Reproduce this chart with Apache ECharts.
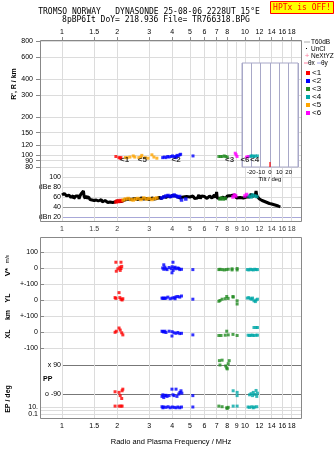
<!DOCTYPE html>
<html><head><meta charset="utf-8">
<script src="https://cdn.jsdelivr.net/npm/echarts@6/dist/echarts.min.js"></script>
<style>html,body{margin:0;padding:0;background:#fff}#c{width:335px;height:451px}</style>
</head><body><div id="c"></div>
<script>
// ---------------- data ----------------
const freqTicksTop = [1,1.5,2,3,4,5,6,7,8,10,12,14,16,18];
const freqTicksMid = [1,1.5,2,3,4,5,6,7,8,9,10,12,14,16,18];
const freqGrid = [1,1.5,2,3,4,5,6,7,8,9,10,12,14,16,18];
const rangeTicks = [80,90,100,120,150,200,300,400,600,800];
const rangeLabelsA = [80,100,120,150,200,300,400,600,800];
const rangeLabelsB = [90];
const dbTicks = [20,40,60,80,100];
const layerNames = ['<1','<2','<3','<4','<5','<6'];

// virtual range echoes (MHz, km) per layer
const echo1 = [[1.97,97],[2.05,95],[2.08,94],[2.1,95]];
const echo2 = [[3.55,95],[3.62,96],[3.7,95],[3.78,97],[3.85,96],[3.95,97],[4.02,98],[4.1,96],[4.18,97],[4.25,99],[4.32,98],[4.4,100],[4.45,101],[4.2,95],[5.2,98]];
const echo3 = [[7.2,97],[7.35,97],[7.5,97],[7.7,98],[7.85,97],[8.0,96]];
const echo4 = [[10.6,97],[10.8,98],[11.0,98],[11.2,97],[11.4,98],[11.7,98]];
const echo5 = [[2.22,95],[2.27,95],[2.35,96],[2.45,98],[2.5,96],[2.63,95],[2.7,96],[2.73,99],[2.85,95],[2.95,94],[3.1,100],[3.18,96],[3.3,94]];
const echo6 = [[8.85,103],[8.95,100],[9.05,97],[10.2,96],[10.4,97]];
const tagNames = ['<1','<5','<2','<3','<6','<4'];
const tagFreq = [2.2,2.75,4.2,8.25,10.0,11.3];
const tagKm = [92,92,92,92,92,92];

// noise / echo amplitude (MHz, dB)
const noise = [[1.00,64],[1.01,68],[1.02,65],[1.03,67],[1.04,63],[1.05,66],[1.06,62],[1.07,65],[1.08,61],[1.09,64],[1.10,60],[1.11,63],[1.12,59],[1.13,62],[1.14,58],[1.15,63],[1.16,57],[1.17,61],[1.18,55],[1.19,62],[1.20,59],[1.21,64],[1.22,58],[1.23,62],[1.24,56],[1.25,61],[1.26,60],[1.27,66],[1.28,62],[1.29,70],[1.30,64],[1.31,72],[1.32,62],[1.33,66],[1.34,57],[1.35,63],[1.36,58],[1.37,62],[1.38,55],[1.40,60],[1.42,55],[1.44,59],[1.46,54],[1.48,58],[1.50,53],[1.52,57],[1.54,54],[1.56,58],[1.58,52],[1.60,56],[1.62,51],[1.64,55],[1.66,50],[1.68,53],[1.70,49],[1.72,53],[1.74,50],[1.76,54],[1.78,49],[1.80,52],[1.83,50],[1.86,53],[1.89,49],[1.92,52],[1.95,50],[2.0,52],[2.1,51],[2.2,54],[2.3,56],[2.4,55],[2.5,57],[2.6,55],[2.7,58],[2.8,56],[2.9,57],[3.0,55],[3.1,58],[3.2,56],[3.3,57],[3.4,59],[3.5,57],[3.6,61],[3.7,59],[3.8,62],[3.9,60],[4.0,63],[4.1,59],[4.2,62],[4.3,60],[4.4,58],[4.5,55],[4.6,60],[4.7,56],[4.8,61],[4.9,57],[5.0,60],[5.1,56],[5.2,62],[5.3,57],[5.4,61],[5.5,58],[5.6,64],[5.7,57],[5.8,62],[5.9,58],[6.0,61],[6.2,57],[6.4,62],[6.6,58],[6.8,64],[6.9,59],[7.0,70],[7.05,58],[7.2,62],[7.4,57],[7.6,60],[7.8,56],[8.0,62],[8.2,58],[8.4,63],[8.6,59],[8.8,64],[9.0,58],[9.2,62],[9.4,59],[9.6,63],[9.8,58],[10.0,62],[10.2,60],[10.4,64],[10.6,60],[10.8,66],[11.0,61],[11.2,58],[11.4,65],[11.5,72],[11.6,62],[11.8,58],[12.0,56],[12.2,57],[12.4,53],[12.6,54],[12.8,51],[13.0,52],[13.2,49],[13.4,50],[13.6,47],[13.8,48],[14.0,46],[14.3,45],[14.6,44],[14.9,43],[15.2,42],[15.6,40]];
const db1 = [[1.97,50],[2.0,52],[2.04,51],[2.08,53],[2.12,52]];
const db2 = [[3.5,58],[3.6,60],[3.7,62],[3.8,63],[3.9,61],[4.0,62],[4.1,64],[4.2,62],[4.3,60],[4.4,61],[4.5,54],[4.75,56]];
const db3 = [[7.3,56],[7.45,58],[7.6,56],[7.8,57]];
const db4 = [[10.5,62],[10.8,60],[11.0,64],[11.3,62],[11.6,61]];
const db5 = [[2.16,54],[2.22,56],[2.3,57],[2.38,55],[2.45,54],[2.52,56],[2.6,57],[2.7,55],[2.8,58],[2.9,56],[3.0,57],[3.1,55],[3.2,57],[3.3,58]];
const db6 = [[8.6,60],[8.75,64],[8.9,62],[10.0,62],[10.2,65]];

// V* (m/s)
const vs1 = [[1.97,36],[2.1,36],[1.98,-20],[2.02,-5],[2.07,5],[2.1,-3],[2.12,10],[2.08,-15]];
const vs2 = [[3.55,0],[3.6,-8],[3.6,20],[3.65,5],[3.7,-5],[3.75,-10],[3.85,3],[3.95,-5],[4.0,8],[4.04,36],[3.99,-30],[4.05,-15],[4.1,0],[4.15,5],[4.2,-5],[4.3,0],[4.35,-3],[4.4,-10],[4.5,-8],[5.19,-10]];
const vs3 = [[7.2,-10],[7.3,-8],[7.5,-10],[7.7,-12],[7.9,-10],[8.1,-8],[8.5,-12],[8.5,-5],[9.06,-12],[9.06,-3]];
const vs4 = [[10.3,-10],[10.5,-12],[10.7,-8],[10.9,-10],[11.1,-12],[11.3,-8],[11.5,-10],[11.7,-10]];
// YL (km)
const yl1 = [[2.05,46],[1.95,15],[1.97,10],[2.07,15],[2.1,5],[2.13,0],[2.15,8]];
const yl2 = [[3.52,12],[3.56,10],[3.6,12],[3.65,10],[3.7,12],[3.79,18],[3.9,8],[4.0,12],[4.1,15],[4.15,8],[4.2,20],[4.3,22],[4.4,18],[4.5,25],[5.19,5]];
const yl3 = [[7.2,-8],[7.3,-3],[7.5,5],[7.8,8],[7.95,22],[8.09,10],[8.6,22],[8.62,18],[9.06,-25],[9.06,-5]];
const yl4 = [[10.3,12],[10.5,15],[10.7,8],[10.9,5],[11.0,12],[11.2,-5],[11.4,-10],[11.5,0],[11.7,5]];
// XL (km)
const xl1 = [[1.95,-2],[1.98,5],[2.05,25],[2.08,12],[2.12,-5],[2.15,-18]];
const xl2 = [[3.52,5],[3.56,3],[3.6,0],[3.65,5],[3.7,-3],[3.85,5],[3.99,-25],[4.0,2],[4.1,-5],[4.2,-8],[4.3,-3],[4.4,-10],[4.5,-8],[5.19,-18]];
const xl3 = [[7.2,-22],[7.4,-22],[7.8,-20],[7.95,5],[8.1,-18],[8.6,-15],[9.06,-22]];
const xl4 = [[10.4,-20],[10.6,-22],[10.8,-20],[11.0,-20],[11.2,-22],[11.5,-20],[11.7,-20],[11.2,28],[11.5,28],[11.7,28]];
// PP (deg)
const pp1 = [[1.95,-76],[2.05,-80],[2.08,-100],[2.12,-118],[2.15,-60],[2.13,-70]];
const pp2 = [[3.52,-105],[3.56,-95],[3.6,-112],[3.65,-100],[3.7,-98],[3.75,-105],[3.85,-100],[3.99,-60],[4.04,-95],[4.1,-100],[4.2,-60],[4.25,-105],[4.35,-90],[4.41,-80],[4.47,-70],[4.52,-85],[5.19,-100]];
const pp3 = [[7.25,117],[7.3,90],[7.5,120],[7.85,84],[7.95,72],[8.2,117],[8.1,98],[8.0,66]];
const pp4 = [[8.62,-70],[9.06,-80],[9.06,-100],[10.6,-95],[10.8,-88],[11.0,-100],[11.1,-80],[11.3,-92],[11.5,-68],[11.6,-105],[11.7,-85]];
// EP (deg)
const ep1 = [[1.95,18],[2.05,18],[2.1,18],[2.13,18]];
const ep2 = [[3.52,12],[3.56,6],[3.6,10],[3.7,8],[3.8,12],[3.9,6],[4.0,10],[4.1,8],[4.2,6],[4.3,10],[4.4,6],[4.5,10],[5.19,10]];
const ep3 = [[7.2,18],[7.5,12],[7.95,6],[8.0,4],[8.1,8]];
const ep4 = [[8.62,18],[9.06,18],[10.4,10],[10.6,8],[10.9,12],[11.1,6],[11.3,10],[11.6,12]];
// tilt
const tiltDeg = [0];
const tiltTicks = [-20,-10,0,10,20];

// ---------------- style ----------------
const colors = ['#ff0000','#0000ff','#228b22','#00a8a8','#ffa500','#ff00ff'];
const SANS = 'Liberation Sans, Arial, sans-serif';
const MONO = 'DejaVu Sans Mono, monospace';
const FMIN = 0.758, FMAX = 20.5;
const fmtF = v => String(Math.round(v*10)/10);

function hiddenX(g, min) {
  return {gridIndex:g, type:'log', logBase:10, min: min || FMIN, max: FMAX,
    axisLine:{show:false}, axisTick:{show:false}, axisLabel:{show:false}, splitLine:{show:false}};
}
const lblStyle = {fontSize:7, fontFamily:SANS, color:'#000', hideOverlap:false, showMinLabel:true, showMaxLabel:true};

const grids = [
  {left:40, top:40, width:262, height:132},      // 0 range
  {left:62, top:172, width:240, height:50},      // 1 dB
  {left:40, top:40, width:262, height:182},      // 2 bg top
  {left:40, top:237, width:262, height:182},     // 3 bg bottom
  {left:40, top:252, width:262, height:32},      // 4 V*
  {left:40, top:284, width:262, height:32},      // 5 YL
  {left:40, top:316, width:262, height:32},      // 6 XL
  {left:62, top:365, width:240, height:29},      // 7 PP
  {left:40, top:407, width:262, height:7},       // 8 EP
  {left:242, top:63, width:56, height:104, show:true, backgroundColor:'#fff', borderColor:'#a8a8c8', borderWidth:1, z:1}, // 9 tilt
  {left:40, top:224, width:262, height:10}       // 10 strip for middle frequency labels
];

const xAxes = [
  Object.assign(hiddenX(0), {position:'top',
    axisTick:{show:true, customValues:freqTicksTop, length:3, lineStyle:{color:'#888'}},
    axisLabel:Object.assign({show:true, customValues:freqTicksTop, formatter:fmtF, margin:4}, lblStyle)}),
  hiddenX(1, 1),
  Object.assign(hiddenX(2), {position:'bottom',
    axisTick:{show:false, customValues:freqGrid},
    splitLine:{show:true, lineStyle:{color:'#dcdcdc', width:1}}}),
  Object.assign(hiddenX(3), {position:'bottom',
    axisTick:{show:false, customValues:freqGrid},
    axisLabel:Object.assign({show:true, customValues:freqTicksMid, formatter:fmtF, margin:4}, lblStyle),
    splitLine:{show:true, lineStyle:{color:'#dcdcdc', width:1}},
    name:'Radio and Plasma Frequency / MHz', nameLocation:'middle', nameGap:19,
    nameTextStyle:{fontSize:7.5, fontFamily:SANS, color:'#000'}}),
  hiddenX(4), hiddenX(5), hiddenX(6), hiddenX(7, 1), hiddenX(8),
  {gridIndex:9, type:'value', min:-30, max:30, interval:10, z:1,
    axisLine:{show:false}, axisTick:{show:false},
    axisLabel:{customValues:tiltTicks, fontSize:6, fontFamily:SANS, color:'#000', margin:2, hideOverlap:false},
    splitLine:{show:true, lineStyle:{color:'#a8a8c8'}},
    name:'Tilt / deg', nameLocation:'middle', nameGap:9,
    nameTextStyle:{fontSize:6, fontFamily:SANS, color:'#000'}},
  hiddenX(10)
];

function pmAxis(g, fmt) {
  return {gridIndex:g, type:'value', min:-100, max:100, interval:100,
    axisLine:{show:false},
    axisTick:{show:true, inside:true, length:4, lineStyle:{color:'#888'}},
    axisLabel:Object.assign({formatter:fmt, margin:2}, lblStyle),
    splitLine:{show:true, lineStyle:{color:'#dcdcdc'}}};
}

const yAxes = [
  {gridIndex:0, type:'log', logBase:10, min:73, max:820, position:'left',
    axisLine:{show:false},
    axisTick:{show:true, customValues:rangeTicks, length:4, lineStyle:{color:'#888'}},
    axisLabel:Object.assign({customValues:rangeLabelsA, margin:7, formatter:v=>String(Math.round(v))}, lblStyle),
    splitLine:{show:true, lineStyle:{color:'#dcdcdc'}}},
  {gridIndex:1, type:'value', min:10, max:110,
    axisLine:{show:false},
    axisTick:{show:false, customValues:dbTicks},
    axisLabel:Object.assign({customValues:dbTicks, margin:1,
      formatter:v=> v===80 ? 'dBe 80' : (v===20 ? 'dBn 20' : String(v))}, lblStyle),
    splitLine:{show:true, lineStyle:{color:['#a8a8d8','#999999','#dcdcdc','#dcdcdc','#dcdcdc']}}},
  {gridIndex:2, type:'value', min:0, max:1, show:false},
  {gridIndex:3, type:'value', min:0, max:1, show:false},
  pmAxis(4, v => v===-100 ? '+-100' : String(v)),
  pmAxis(5, v => v===-100 ? '+-100' : (v===0 ? '0' : '')),
  pmAxis(6, v => v===100 ? '' : String(v)),
  {gridIndex:7, type:'value', min:-90, max:90, interval:180,
    axisLine:{show:false}, axisTick:{show:false},
    axisLabel:Object.assign({margin:1, formatter:v=> v>0 ? 'x 90' : 'o -90'}, lblStyle),
    splitLine:{show:true, lineStyle:{color:'#777'}}},
  {gridIndex:8, type:'log', logBase:10, min:0.1, max:10,
    axisLine:{show:false}, axisTick:{show:false},
    axisLabel:Object.assign({margin:2, formatter:v=> v>5 ? '10.' : (v<0.5 ? '0.1' : '')}, lblStyle),
    splitLine:{show:true, lineStyle:{color:'#dcdcdc'}}},
  {gridIndex:9, type:'value', min:0, max:1, show:false},
  {gridIndex:10, type:'value', min:0, max:1, show:false},
  // second left axis on the range panel carrying the crowded 90 km label
  {gridIndex:0, type:'log', logBase:10, min:73, max:820, position:'left', offset:0,
    axisLine:{show:false},
    axisTick:{show:false, customValues:rangeLabelsB},
    axisLabel:Object.assign({customValues:rangeLabelsB, margin:7, formatter:v=>String(Math.round(v))}, lblStyle),
    splitLine:{show:false}}
];

function dots(name, data, gi, ci, size) {
  return {name, type:'scatter', xAxisIndex:gi, yAxisIndex:gi, data, symbol:'rect',
    symbolSize:size||3, itemStyle:{color:colors[ci]}, clip:false, z:3, silent:true, animation:false};
}

const series = [];
const echoes = [echo1, echo2, echo3, echo4, echo5, echo6];
echoes.forEach((d,i)=>series.push(dots(layerNames[i], d, 0, i, 3)));
series.push({type:'scatter', xAxisIndex:0, yAxisIndex:0, symbolSize:1, itemStyle:{color:'rgba(0,0,0,0)'},
  data: tagNames.map((n,i)=>({name:n, value:[tagFreq[i], tagKm[i]]})),
  label:{show:true, position:'inside', formatter:'{b}', fontSize:8, fontFamily:SANS, color:'#000', fontWeight:'bold'},
  z:4, silent:true, animation:false});
// frequency tick labels between the two frames, placed through the strip grid's frequency axis
series.push({type:'scatter', xAxisIndex:10, yAxisIndex:10, symbolSize:1, itemStyle:{color:'rgba(0,0,0,0)'},
  data: freqTicksMid.map(f=>({name:fmtF(f), value:[f, 0.5]})),
  label:{show:true, position:'inside', formatter:'{b}', fontSize:7, fontFamily:SANS, color:'#000'},
  z:4, silent:true, animation:false});
series.push({type:'line', xAxisIndex:1, yAxisIndex:1, data:noise, showSymbol:false, symbol:'none',
  lineStyle:{color:'#000', width:3}, z:2, silent:true, animation:false});
[db1, db2, db3, db4, db5, db6].forEach((d,i)=>series.push(dots(layerNames[i], d, 1, i, 3.5)));
[vs1, vs2, vs3, vs4].forEach((d,i)=>series.push(dots(layerNames[i], d, 4, i, 3)));
[yl1, yl2, yl3, yl4].forEach((d,i)=>series.push(dots(layerNames[i], d, 5, i, 3)));
[xl1, xl2, xl3, xl4].forEach((d,i)=>series.push(dots(layerNames[i], d, 6, i, 3)));
[pp1, pp2, pp3, pp4].forEach((d,i)=>series.push(dots(layerNames[i], d, 7, i, 3)));
[ep1, ep2, ep3, ep4].forEach((d,i)=>series.push(dots(layerNames[i], d, 8, i, 3)));
series.push({type:'scatter', xAxisIndex:9, yAxisIndex:9, data:tiltDeg.map(t=>[t,0]), symbol:'rect',
  symbolSize:[1.5,5], symbolOffset:[0,-2.5], itemStyle:{color:'#ff0000'}, clip:false, z:3, silent:true, animation:false});

// ---------------- graphic (frames, titles, legend) ----------------
function txt(text, x, y, opt) {
  opt = opt || {};
  return {type:'text', x, y, rotation: opt.rot || 0, z:101, silent:true,
    style:{text, x:0, y:0, fill: opt.color || '#000', fontSize: opt.size || 7,
      fontFamily: opt.font || SANS, fontWeight: opt.weight || 'normal',
      textAlign: opt.align || 'left', textVerticalAlign:'middle'}};
}
const graphic = [
  {type:'rect', z:100, silent:true, shape:{x:40.5,y:40.5,width:261,height:181}, style:{fill:'none', stroke:'#888', lineWidth:1}},
  {type:'rect', z:100, silent:true, shape:{x:40.5,y:237.5,width:261,height:181}, style:{fill:'none', stroke:'#888', lineWidth:1}},
  {type:'rect', z:100, silent:true, shape:{x:270.5,y:1.5,width:63,height:12}, style:{fill:'#ffff00', stroke:'#ff0000', lineWidth:1}},
  txt('HPTx is OFF!', 302, 8, {font:MONO, size:8, color:'#ff0000', align:'center'}),
  txt('TROMSO NORWAY   DYNASONDE 25-08-06 2228UT 15°E', 149, 12, {font:MONO, size:8, align:'center'}),
  txt('8pBP6It DoY= 218.936 File= TR766318.BPG', 156, 20, {font:MONO, size:8, align:'center'}),
  txt("R', R / km", 14, 84, {rot:Math.PI/2, align:'center', weight:'bold'}),
  txt('V*', 8, 272, {rot:Math.PI/2, align:'center', weight:'bold', size:8}),
  txt('m/s', 8, 259, {rot:Math.PI/2, align:'center', size:5}),
  txt('YL', 8, 298, {rot:Math.PI/2, align:'center', weight:'bold'}),
  txt('km', 8, 315, {rot:Math.PI/2, align:'center', weight:'bold'}),
  txt('XL', 8, 334, {rot:Math.PI/2, align:'center', weight:'bold'}),
  txt('PP', 43, 379, {weight:'bold'}),
  txt('EP / deg', 8, 399, {rot:Math.PI/2, align:'center', weight:'bold'}),
  // legend
  {type:'line', z:101, silent:true, shape:{x1:304,y1:42,x2:310,y2:42}, style:{stroke:'#aaa', lineWidth:1}},
  txt('T60dB', 311, 42, {size:6.5}),
  {type:'rect', z:101, silent:true, shape:{x:306,y:48,width:1,height:1}, style:{fill:'#000'}},
  txt('UnCl', 311, 49, {size:6.5}),
  txt('+', 307, 56, {color:'#ff80a0', align:'center', size:8}),
  txt('NeXtYZ', 311, 56, {size:6.5}),
  {type:'line', z:101, silent:true, shape:{x1:304,y1:63,x2:308,y2:63}, style:{stroke:'#ff80a0', lineWidth:1}},
  txt('θx', 308, 63, {size:6.5}),
  {type:'line', z:101, silent:true, shape:{x1:317,y1:63,x2:321,y2:63}, style:{stroke:'#a0a0e0', lineWidth:1}},
  txt('θy', 321, 63, {size:6.5})
];
const legendOrder = [0,1,2,3,4,5];
legendOrder.forEach((k,i)=>{
  const y = 73 + i*8;
  graphic.push({type:'rect', z:101, silent:true, shape:{x:306,y:y-2,width:4,height:4}, style:{fill:colors[k]}});
  graphic.push(txt(layerNames[k], 312, y, {size:8}));
});

const chart = echarts.init(document.getElementById('c'), null, {renderer:'canvas'});
chart.setOption({
  animation:false,
  backgroundColor:'#fff',
  grid: grids,
  xAxis: xAxes,
  yAxis: yAxes,
  series,
  graphic
});
</script></body></html>
